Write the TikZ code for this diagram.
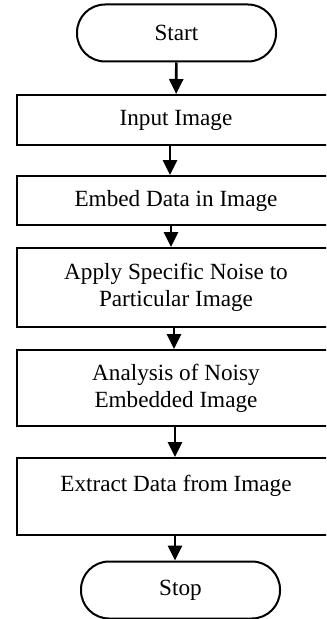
\documentclass[tikz,border=0pt]{standalone}
\usepackage{fontspec}
\setmainfont{Liberation Serif}
\usetikzlibrary{arrows.meta}
\newlength{\du}
\setlength{\du}{0.03cm}
\tikzset{
  stepbox/.style={draw, line width=2\du, rectangle, minimum width=318\du, align=center, inner sep=0pt},
  termbox/.style={draw, line width=2\du, rectangle, rounded corners=28\du, minimum width=199\du, minimum height=57\du, inner sep=0pt},
  flowarrow/.style={line width=2.6\du, -{Triangle[length=0.45cm,width=0.42cm]}}
}

\begin{document}
\begin{tikzpicture}[font=\fontsize{19.8}{23}\selectfont]
\pgftransformxscale{1.000000}
\pgftransformyscale{-1.000000}
\useasboundingbox (0\du,0\du) rectangle (326\du,619\du);
\clip (0\du,0\du) rectangle (326\du,619\du);
% terminals and steps
\node[termbox] (start) at (176.5\du,33\du){Start};
\node[stepbox, minimum height=50\du] (input) at (176\du,120\du){Input Image};
\node[stepbox, minimum height=49\du] (embed) at (176\du,200.5\du){Embed Data in Image};
\node[stepbox, minimum height=79\du] (noise) at (176\du,287.5\du){Apply Specific Noise to\\Particular Image};
\node[stepbox, minimum height=76\du] (analysis) at (176\du,388\du){Analysis of Noisy\\Embedded Image};
\node[stepbox, minimum height=77\du] (extract) at (176\du,496.5\du){Extract Data from Image\\\mbox{}};
\node[termbox] (stop) at (180.5\du,590\du){Stop};
% arrows
\draw[flowarrow] (start) -- (input);
\draw[flowarrow] ([xshift=-6\du]input.south) -- ([xshift=-6\du]embed.north);
\draw[flowarrow] ([xshift=-5\du]embed.south) -- ([xshift=-5\du]noise.north);
\draw[flowarrow] ([xshift=-2\du]noise.south) -- ([xshift=-2\du]analysis.north);
\draw[flowarrow] ([xshift=-1\du]analysis.south) -- ([xshift=-1\du]extract.north);
\draw[flowarrow] ([xshift=-1\du]extract.south) -- ([xshift=-5.5\du]stop.north);
\end{tikzpicture}
\end{document}
